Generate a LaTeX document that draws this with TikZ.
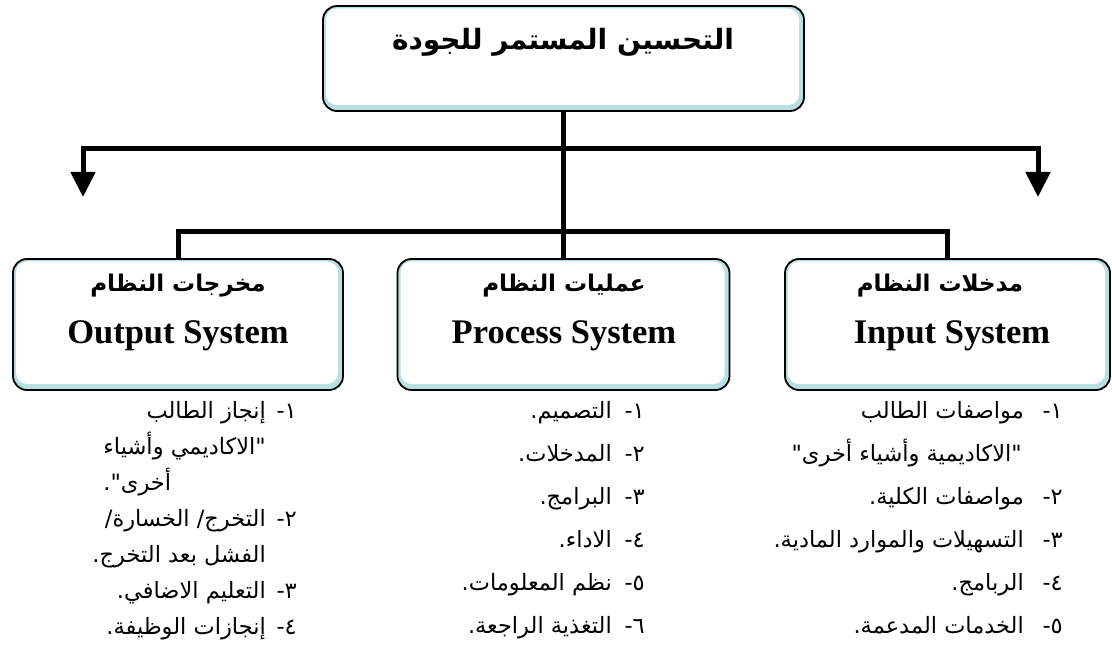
\documentclass[tikz,border=0pt]{standalone}
\usepackage{fontspec}
\setmainfont{Liberation Serif}
\newfontfamily\arabicfont[Script=Arabic]{DejaVu Sans}
\TeXXeTstate=1
\usetikzlibrary{arrows.meta}
\definecolor{boxcyan}{HTML}{B8E0E3}
\begin{document}
\begin{tikzpicture}[x=1pt,y=-1pt,
  sysbox/.style={draw=black, line width=1.8pt, fill=boxcyan, rounded corners=14pt, inner sep=0pt,
    path picture={\fill[white, rounded corners=11pt]
      ([xshift=3pt,yshift=-2.5pt]path picture bounding box.north west) rectangle
      ([xshift=-5pt,yshift=6pt]path picture bounding box.south east);}},
  conn/.style={line width=5pt, line join=miter, draw=black},
  arrowend/.style={-{Triangle[width=24pt,length=25pt]}},
  titletext/.style={font=\arabicfont\bfseries\fontsize{28}{34}\selectfont, inner sep=0pt, anchor=base},
  headar/.style={font=\arabicfont\bfseries\fontsize{23}{28}\selectfont, inner sep=0pt, anchor=base},
  headen/.style={font=\bfseries\fontsize{34.5}{40}\selectfont, inner sep=0pt, anchor=base},
  listitem/.style={font=\arabicfont\fontsize{22.5}{27}\selectfont, inner sep=0pt, anchor=base east},
  listitemw/.style={listitem, anchor=base west},
]
\path[use as bounding box, fill=white] (0,0) rectangle (1112,655);

% boxes
\node[sysbox, minimum width=481pt, minimum height=105pt] (topb) at (563.5,58.5) {};
\node[sysbox, minimum width=330pt, minimum height=131pt] (outb) at (178,324.5) {};
\node[sysbox, minimum width=332pt, minimum height=131pt] (procb) at (563.5,324.5) {};
\node[sysbox, minimum width=325pt, minimum height=131pt] (inb) at (947.5,324.5) {};

% box texts
\node[titletext] (title) at (563,50) {\beginR التحسين المستمر للجودة\endR};
\node[headar] (outar) at (178,292) {\beginR مخرجات النظام\endR};
\node[headen] (outen) at (178,344) {Output System};
\node[headar] (procar) at (564,292) {\beginR عمليات النظام\endR};
\node[headen] (procen) at (564,344) {Process System};
\node[headar] (inar) at (940,292) {\beginR مدخلات النظام\endR};
\node[headen] (inen) at (952,344) {Input System};

% connectors
\coordinate (ha) at (563.5,149);
\coordinate (ltip) at (83,197);
\coordinate (rtip) at (1038,197);
\coordinate (hb) at (0,232);
\draw[conn] (topb.south) -- (procb.north);
\draw[conn, arrowend] (ha) -| (ltip);
\draw[conn, arrowend] (ha) -| (rtip);
\draw[conn] (outb.north) -- (outb.north |- hb) -- (inb.north |- hb) -- (inb.north);

% input list
\node[listitem] (in1n) at (1063,418) {\beginR ١-\endR};
\node[listitem] (in1) at (1024,418) {\beginR مواصفات الطالب\endR};
\node[listitem] (in1b) at (1022,461) {\beginR "الاكاديمية وأشياء أخرى"\endR};
\node[listitem] (in2n) at (1063,504) {\beginR ٢-\endR};
\node[listitem] (in2) at (1024,504) {\beginR مواصفات الكلية.\endR};
\node[listitem] (in3n) at (1063,547) {\beginR ٣-\endR};
\node[listitem] (in3) at (1024,547) {\beginR التسهيلات والموارد المادية.\endR};
\node[listitem] (in4n) at (1063,590) {\beginR ٤-\endR};
\node[listitem] (in4) at (1024,590) {\beginR الربامج.\endR};
\node[listitem] (in5n) at (1063,633) {\beginR ٥-\endR};
\node[listitem] (in5) at (1024,633) {\beginR الخدمات المدعمة.\endR};

% process list
\node[listitem] (pr1n) at (645,418) {\beginR ١-\endR};
\node[listitem] (pr1) at (612,418) {\beginR التصميم.\endR};
\node[listitem] (pr2n) at (645,461) {\beginR ٢-\endR};
\node[listitem] (pr2) at (612,461) {\beginR المدخلات.\endR};
\node[listitem] (pr3n) at (645,504) {\beginR ٣-\endR};
\node[listitem] (pr3) at (612,504) {\beginR البرامج.\endR};
\node[listitem] (pr4n) at (645,547) {\beginR ٤-\endR};
\node[listitem] (pr4) at (612,547) {\beginR الاداء.\endR};
\node[listitem] (pr5n) at (645,590) {\beginR ٥-\endR};
\node[listitem] (pr5) at (612,590) {\beginR نظم المعلومات.\endR};
\node[listitem] (pr6n) at (645,633) {\beginR ٦-\endR};
\node[listitem] (pr6) at (612,633) {\beginR التغذية الراجعة.\endR};

% output list
\node[listitem] (ou1n) at (297,418) {\beginR ١-\endR};
\node[listitem] (ou1) at (266,418) {\beginR إنجاز الطالب\endR};
\node[listitem] (ou1b) at (266,454) {\beginR "الاكاديمي وأشياء\endR};
\node[listitemw] (ou1c) at ([yshift=-36pt]ou1b.base west) {\beginR أخرى".\endR};
\node[listitem] (ou2n) at (297,526) {\beginR ٢-\endR};
\node[listitem] (ou2) at (266,526) {\beginR التخرج/ الخسارة/\endR};
\node[listitem] (ou2b) at (266,562) {\beginR الفشل بعد التخرج.\endR};
\node[listitem] (ou3n) at (297,598) {\beginR ٣-\endR};
\node[listitem] (ou3) at (266,598) {\beginR التعليم الاضافي.\endR};
\node[listitem] (ou4n) at (297,634) {\beginR ٤-\endR};
\node[listitem] (ou4) at (266,634) {\beginR إنجازات الوظيفة.\endR};
\end{tikzpicture}
\end{document}
